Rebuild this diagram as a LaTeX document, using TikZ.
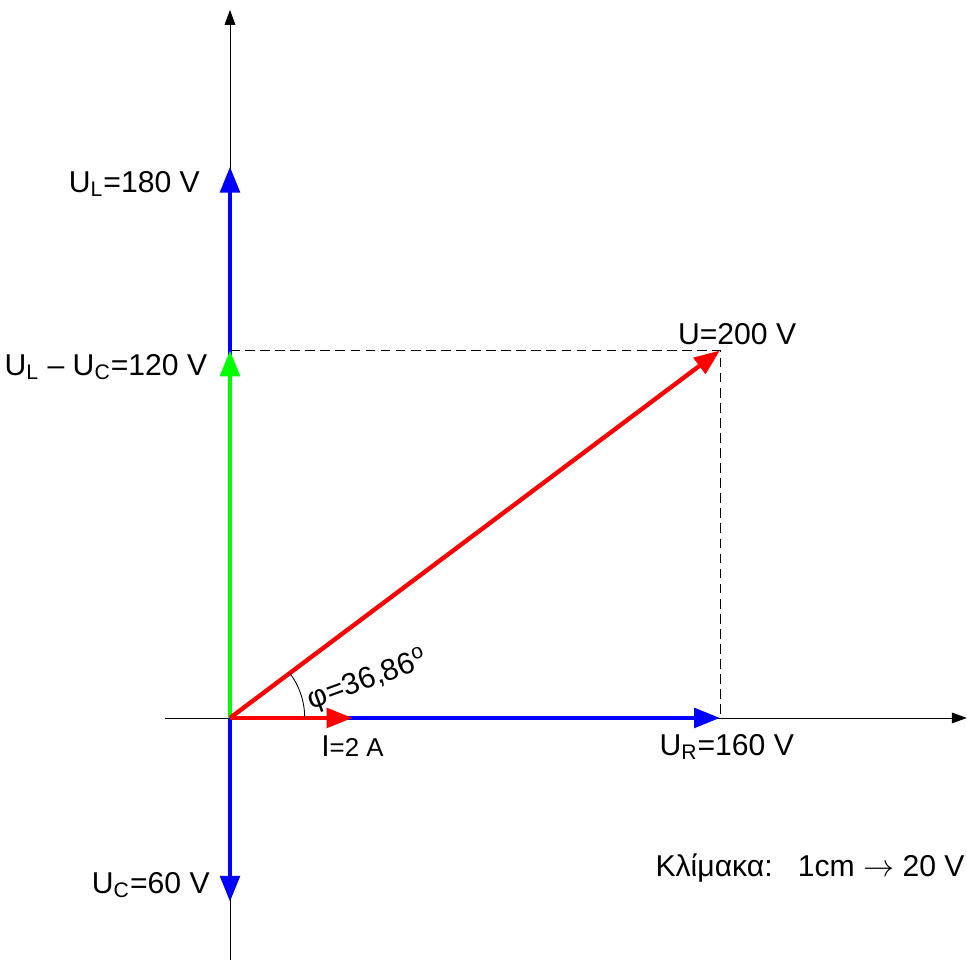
\documentclass[tikz,border=0pt]{standalone}
\usepackage{fontspec}
\setmainfont{Liberation Sans}
\usetikzlibrary{arrows.meta, positioning}
\newcommand{\ind}[1]{\textsubscript{#1}}

\begin{document}
\begin{tikzpicture}[>={Triangle[length=7pt, width=5pt]},
    vec/.style={line width=2pt, -{Triangle[length=12pt, width=9pt]}},
    lbl/.style={font=\fontsize{14}{16}\selectfont, inner sep=1pt}]
    \useasboundingbox (-3.755,-3.951) rectangle (12.033,11.722);

    % Σημεία
    \coordinate (O) at (0,0);
    \coordinate (xa) at (-1.06,0);
    \coordinate (xb) at (12.03,0);
    \coordinate (ya) at (0,-3.95);
    \coordinate (yb) at (0,11.56);
    \coordinate (UL) at (0,9);
    \coordinate (ULC) at (0,6);
    \coordinate (UC) at (0,-3);
    \coordinate (UR) at (8,0);
    \coordinate (U) at (8,6);
    \coordinate (I) at (2,0);

    % Άξονες
    \draw[->] (xa) -- (xb);
    \draw[->] (ya) -- (yb);

    % Διακεκομμένες
    \draw[dash pattern=on 4.5pt off 2.5pt] (ULC) -- (U) -- (UR);

    % Διανύσματα
    \draw[vec, blue] (O) -- (UL);
    \draw[vec, green] (O) -- (ULC);
    \draw[vec, blue] (O) -- (UC);
    \draw[vec, blue] (O) -- (UR);
    \draw[vec, red] (O) -- (U);
    \draw[vec, red] (O) -- (I);

    % Γωνία
    \draw (1.22,0) arc[start angle=0, end angle=36.87, radius=1.22];

    % Ετικέτες
    \node[lbl, left=0.45cm of UL, yshift=-0.28cm] (lUL) {U\ind{L}=180 V};
    \node[lbl, left=0.33cm of ULC, yshift=-0.27cm] (lULC) {U\ind{L} – U\ind{C}=120 V};
    \node[lbl, left=0.29cm of UC, yshift=0.27cm] (lUC) {U\ind{C}=60 V};
    \node[lbl, above=0.05cm of U, xshift=0.28cm] (lU) {U=200 V};
    \node[lbl, below=0.22cm of UR, xshift=0.11cm] (lUR) {U\ind{R}=160 V};
    \node[lbl, below=0.25cm of I] (lI) {I{\fontsize{12}{14}\selectfont=2 A}};
    \node[lbl, rotate=20] (lphi) at (2.25,0.62) {φ=36,86\textsuperscript{o}};
    \node[lbl] (scale) at (9.47,-2.45) {Κλίμακα:\ \ \ 1cm $\rightarrow$ 20 V};
\end{tikzpicture}
\end{document}
